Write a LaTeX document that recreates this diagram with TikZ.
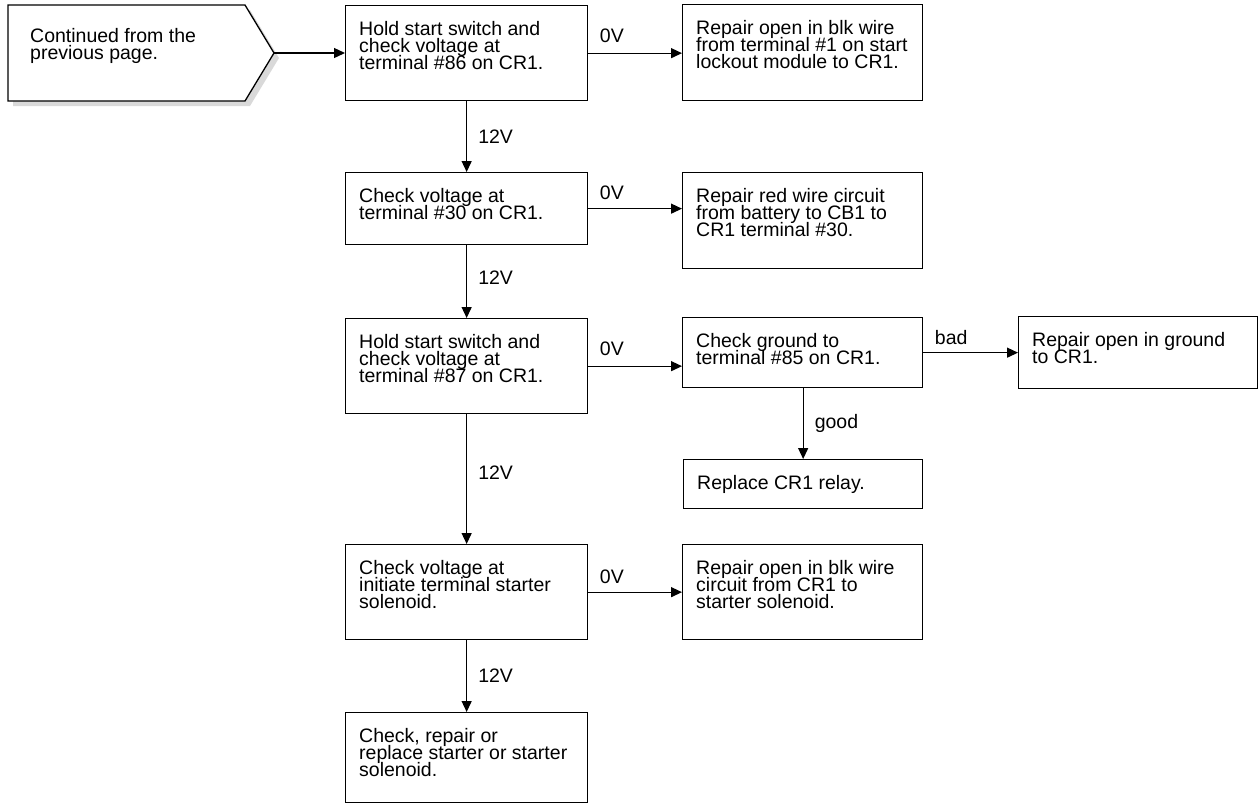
\documentclass[tikz,border=0pt]{standalone}
\usepackage{fontspec}
\setmainfont{Liberation Sans}
\usetikzlibrary{arrows.meta,calc}
\newcommand\myfont{\fontsize{19.5}{17}\selectfont\lineskiplimit=-100pt\relax}
\tikzset{
  box/.style={draw, line width=1.3pt, inner sep=0pt, anchor=north west},
  txt/.style={inner sep=0pt, align=left, anchor=north west, font=\myfont},
  lbl/.style={inner sep=0pt, font=\myfont},
  conn/.style={line width=1.3pt, -{Triangle[length=11pt,width=10pt]}},
}
\newcommand\mybox[6]{%
  \node[box, minimum width=#4-#2, minimum height=#5-#3] (#1) at (#2,#3) {};
  \node[txt] (#1t) at ($(#1.north west)+(14,16)$) {#6};
}
\begin{document}
\begin{tikzpicture}[x=1pt,y=-1pt]
\useasboundingbox (0,0) rectangle (1259,807);
% start pentagon with shadow
\fill[black!15] (13,10) -- (250,10) -- (279,58) -- (250,106) -- (13,106) -- cycle;
\draw[line width=1.3pt, fill=white] (8,5) -- (245,5) -- (274,53) -- (245,101) -- (8,101) -- cycle;
\coordinate (st) at (274,53);
\node[txt] (stt) at (30,28) {Continued from the\\previous page.};

\mybox{b1}{345}{5}{587}{100}{Hold start switch and\\check voltage at\\terminal \#86 on CR1.}
\mybox{r1}{682}{4}{922}{100}{Repair open in blk wire\\from terminal \#1 on start\\lockout module to CR1.}
\mybox{b2}{345}{172}{587}{244}{Check voltage at\\terminal \#30 on CR1.}
\mybox{r2}{682}{172}{922}{268}{Repair red wire circuit\\from battery to CB1 to\\CR1 terminal \#30.}
\mybox{b3}{345}{318}{587}{413}{Hold start switch and\\check voltage at\\terminal \#87 on CR1.}
\mybox{r3}{682}{317}{922}{387}{Check ground to\\terminal \#85 on CR1.}
\mybox{r3b}{1018}{316}{1257}{388}{Repair open in ground\\to CR1.}
\mybox{r3c}{683}{459}{922}{508}{Replace CR1 relay.}
\mybox{b4}{345}{544}{587}{639}{Check voltage at\\initiate terminal starter\\solenoid.}
\mybox{r4}{682}{544}{922}{639}{Repair open in blk wire\\circuit from CR1 to\\starter solenoid.}
\mybox{b5}{345}{712}{587}{802}{Check, repair or\\replace starter or starter\\solenoid.}

% horizontal connectors
\draw[conn] (st) -- (st -| b1.west);
\draw[conn] (b1.east) -- (b1.east -| r1.west) node[lbl, pos=0, anchor=west, xshift=11pt, yshift=17pt] (l1) {0V};
\draw[conn] (b2.east) -- (b2.east -| r2.west) node[lbl, pos=0, anchor=west, xshift=11pt, yshift=16pt] (l2) {0V};
\draw[conn] (b3.east) -- (b3.east -| r3.west) node[lbl, pos=0, anchor=west, xshift=11pt, yshift=17pt] (l3) {0V};
\draw[conn] (r3.east) -- (r3.east -| r3b.west) node[lbl, pos=0, anchor=west, xshift=11pt, yshift=15pt] (l4) {bad};
\draw[conn] (b4.east) -- (b4.east -| r4.west) node[lbl, pos=0, anchor=west, xshift=11pt, yshift=15pt] (l5) {0V};
% vertical connectors
\draw[conn] (b1.south) -- (b2.north) node[lbl, midway, anchor=west, xshift=11pt] (v1) {12V};
\draw[conn] (b2.south) -- (b3.north) node[lbl, midway, anchor=west, xshift=11pt, yshift=4pt] (v2) {12V};
\draw[conn] (b3.south) -- (b4.north) node[lbl, midway, anchor=west, xshift=11pt, yshift=6pt] (v3) {12V};
\draw[conn] (b4.south) -- (b5.north) node[lbl, midway, anchor=west, xshift=11pt] (v4) {12V};
\draw[conn] (r3.south -| r3c.north) -- (r3c.north) node[lbl, midway, anchor=west, xshift=11pt] (v5) {good};
\end{tikzpicture}
\end{document}
